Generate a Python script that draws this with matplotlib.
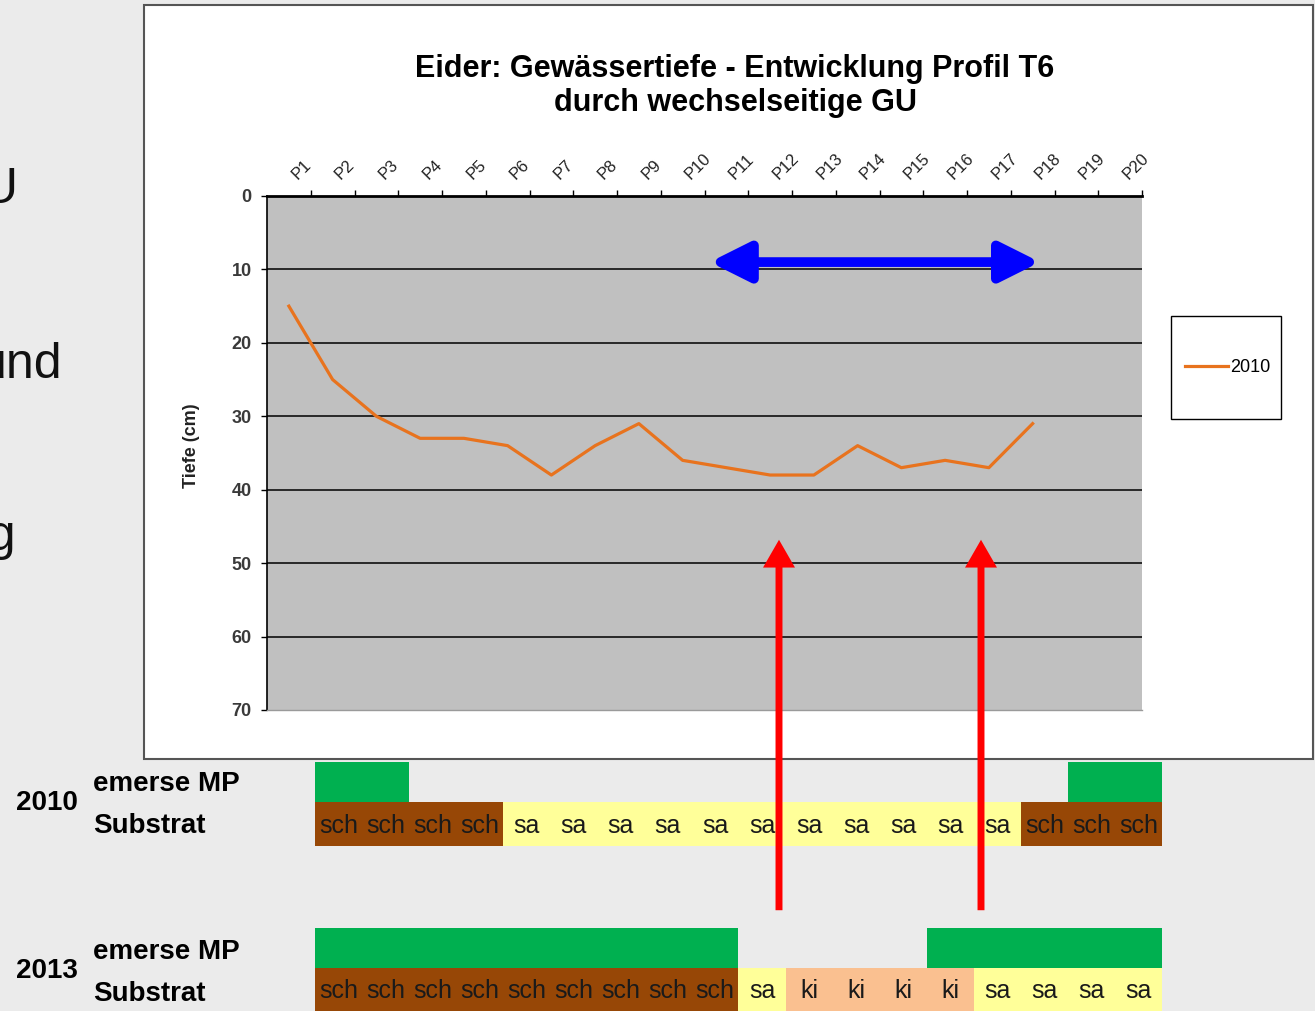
import numpy as np
import matplotlib
matplotlib.use("Agg")
import matplotlib.pyplot as plt
from matplotlib.patches import Rectangle, FancyArrowPatch

plt.rcParams['font.family'] = ['Liberation Sans', 'DejaVu Sans']

# data
profile = ['P%d' % i for i in range(1, 21)]
depth_2010 = [15, 25, 30, 33, 33, 34, 38, 34, 31, 36, 37, 38, 38, 34, 37, 36, 37, 31]
y_ticks = [0, 10, 20, 30, 40, 50, 60, 70]

sub_2010 = ['sch'] * 4 + ['sa'] * 11 + ['sch'] * 3
mp_2010 = [1, 1] + [0] * 14 + [1, 1]
sub_2013 = ['sch'] * 9 + ['sa'] + ['ki'] * 4 + ['sa'] * 4
mp_2013 = [1] * 9 + [0] * 4 + [1] * 5

sub_colors = {'sch': '#974706', 'sa': '#ffff99', 'ki': '#fac090'}
mp_color = '#00b050'
line_color = '#e8731e'

W, H = 1315, 1011


def fx(px):
    return px / W


def fy(py):
    return 1 - py / H


fig = plt.figure(figsize=(W / 100, H / 100), dpi=100)
fig.patch.set_facecolor('#ebebeb')

# slide text peeking out behind the chart box
for txt, x, y in [('GU', 18, 203), ('und', 62, 378), ('ung', 16, 550)]:
    fig.text(fx(x), fy(y), txt, ha='right', va='baseline', fontsize=36, color='#111111')

# white chart box
box = Rectangle((fx(144), fy(759)), fx(1313) - fx(144), fy(5) - fy(759),
                transform=fig.transFigure, facecolor='white', edgecolor='#555555',
                lw=1.5, zorder=0)
fig.add_artist(box)

fig.text(fx(735), fy(86), 'Eider: Gewässertiefe - Entwicklung Profil T6\ndurch wechselseitige GU',
         ha='center', va='center', fontsize=22, fontweight='bold', linespacing=1.15, zorder=2)

# main chart
ax = fig.add_axes([fx(267), fy(710), fx(1142) - fx(267), fy(196) - fy(710)])
ax.set_zorder(2)
ax.set_facecolor('#c0c0c0')
x = np.arange(len(depth_2010))
ax.plot(x, depth_2010, color=line_color, lw=2.3, label='2010')
ax.set_xlim(-0.5, len(profile) - 0.5)
ax.set_ylim(70, 0)
ax.set_yticks(y_ticks)
ax.set_yticklabels([str(v) for v in y_ticks], fontsize=13, fontweight='bold', color='#3a3a3a')
ax.tick_params(axis='y', length=4, width=1, pad=7, direction='out')
for v in y_ticks[1:-1]:
    ax.axhline(v, color='black', lw=1.1, zorder=1)

ax.xaxis.tick_top()
ax.set_xticks(np.arange(len(profile)))
ax.set_xticklabels(profile, rotation=45, ha='left', fontsize=12, color='#222222')
ax.set_xticks(np.arange(len(profile)) + 0.5, minor=True)
ax.tick_params(axis='x', which='major', length=0, pad=10)
ax.tick_params(axis='x', which='minor', length=4, width=1, direction='out', top=True, bottom=False)

ax.spines['top'].set_linewidth(2)
ax.spines['left'].set_linewidth(1.2)
ax.spines['right'].set_visible(False)
ax.spines['bottom'].set_color('#9a9a9a')
ax.spines['bottom'].set_linewidth(1)

ax.set_ylabel('Tiefe (cm)', fontsize=13, fontweight='bold', color='#222222')
ax.yaxis.set_label_coords(-0.077, 0.514)

# legend in its own box
leg_box = Rectangle((fx(1171), fy(419)), fx(1281) - fx(1171), fy(316) - fy(419),
                    transform=fig.transFigure, facecolor='white', edgecolor='black',
                    lw=1, zorder=1)
fig.add_artist(leg_box)
leg = ax.legend(loc='center left', bbox_to_anchor=(fx(1185), fy(367.5)),
                bbox_transform=fig.transFigure, fontsize=13, frameon=False,
                borderpad=0, handlelength=2.4, handletextpad=0.1, borderaxespad=0)

# blue double arrow inside chart
blue = FancyArrowPatch((9.62, 9), (17.17, 9),
                       arrowstyle='<|-|>,head_length=0.6,head_width=0.3',
                       mutation_scale=40, lw=7, color='#0000ff', shrinkA=0, shrinkB=0,
                       joinstyle='round', capstyle='butt', zorder=5)
ax.add_patch(blue)

# bottom strips: emerse MP and Substrat
axc = fig.add_axes([fx(315), 0, fx(1162) - fx(315), fy(762)])
axc.set_zorder(1)
axc.set_xlim(-0.5, len(sub_2010) - 0.5)
axc.set_ylim(H - 762, 0)
axc.axis('off')
axc.patch.set_alpha(0)

rows = [(mp_2010, sub_2010, 0, 40, 84), (mp_2013, sub_2013, 166, 206, 250)]
idx = np.arange(len(sub_2010))
for mp, sub, top_mp, top_sub, bot_sub in rows:
    mp = np.array(mp)
    axc.bar(idx[mp == 1], top_sub - top_mp, bottom=top_mp, width=1.0,
            color=mp_color, lw=0)
    axc.bar(idx, bot_sub - top_sub, bottom=top_sub, width=1.0,
            color=[sub_colors[s] for s in sub], lw=0)
    for i, s in enumerate(sub):
        axc.text(i, (top_sub + min(bot_sub, H - 762)) / 2 + 2, s, ha='center', va='center',
                 fontsize=18, color='#1a1a1a', clip_on=True)

for year, y0 in [('2010', 803), ('2013', 971)]:
    fig.text(fx(16), fy(y0), year, ha='left', va='center', fontsize=20, fontweight='bold')
    fig.text(fx(93), fy(y0 - 19), 'emerse MP', ha='left', va='center', fontsize=20, fontweight='bold')
    fig.text(fx(93), fy(y0 + 23), 'Substrat', ha='left', va='center', fontsize=20, fontweight='bold')

# red arrows pointing up from the 2013 strip into the chart
for xr in (779, 981):
    red = FancyArrowPatch((fx(xr), fy(913)), (fx(xr), fy(537)), transform=fig.transFigure,
                          arrowstyle='simple,head_length=20,head_width=23,tail_width=5',
                          mutation_scale=1, color='#ff0000', lw=0, zorder=10)
    fig.add_artist(red)

fig.savefig('out.png', dpi=100, facecolor=fig.get_facecolor())
